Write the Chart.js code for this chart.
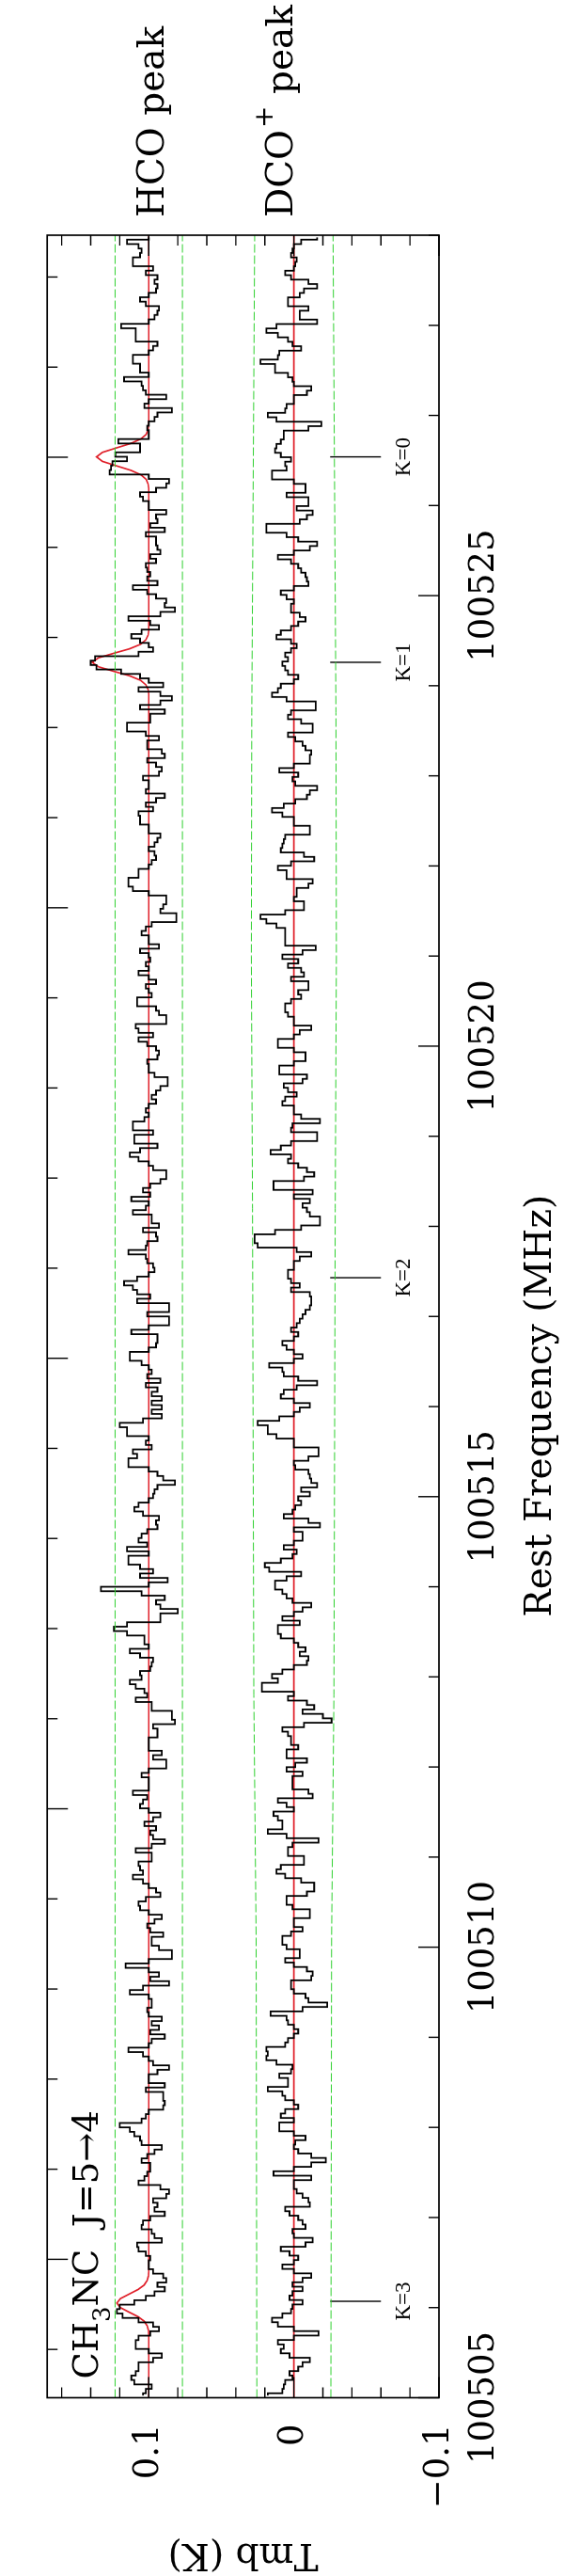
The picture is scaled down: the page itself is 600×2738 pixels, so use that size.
<!DOCTYPE html>
<html>
<head>
<meta charset="utf-8">
<script src="https://cdn.jsdelivr.net/npm/chart.js@4/dist/chart.umd.min.js"></script>
<style>
html, body { margin: 0; padding: 0; width: 600px; height: 2738px; overflow: hidden; background: #fff; }
/* the spectrum is drawn landscape and turned a quarter turn, like the printed figure */
#wrap { position: absolute; left: 0; top: 0; width: 2738px; height: 600px; transform-origin: 0 0; transform: translateY(2738px) rotate(-90deg); }
</style>
</head>
<body>
<div id="wrap"><canvas id="spec" width="2738" height="600"></canvas></div>
<script>
// axis ranges and tick labels
const freqMin = 100505;
const freqMax = 100529;
const freqLabels = [100505, 100510, 100515, 100520, 100525];
const tmbMin = -0.1;
const tmbMax = 0.17;
const tmbLabels = [-0.1, 0, 0.1];
const tmbLabelText = ['\u22120.1', '0', '0.1'];
const topAxisShift = 1.536; // unlabelled top axis, majors fall on K=0

// spectra, Tmb in mK, one value per channel from high to low frequency
const hcoOffset = 0.1;
const hcoMK = [
  0,15,7,5,6,11,11,-3,2,-6,-4,-6,-5,0,6,2,-7,-6,-4,0,19,9,9,9,-6,-3,0,11,11,6,6,0,17,5,4,2,-12,0,3,-16,
  -6,-4,0,1,0,0,21,6,6,23,15,25,26,27,0,-14,-12,-5,6,4,0,0,-12,-5,-6,-1,-11,2,-5,-5,-6,-8,-1,-5,2,1,-1,1,-6,11,
  1,-5,-12,-11,-18,-8,14,-1,-7,5,12,6,0,-3,7,37,40,36,19,6,0,-10,7,-8,-16,-8,6,
  -11,-1,-1,15,15,2,-7,1,1,-9,-11,1,-5,-9,-7,4,0,0,2,-11,-5,2,-3,7,6,6,0,0,-8,-6,-4,0,-4,-5,-2,0,7,7,14,14,
  11,0,-12,-12,-10,-8,-19,-19,-2,2,5,0,0,-7,6,0,-1,2,0,7,0,-5,2,0,-2,8,8,-5,-7,-12,-12,9,7,-3,7,1,-5,-7,-6,1,
  0,0,-4,-13,-13,-8,-5,-2,-5,0,2,0,3,11,11,-3,10,10,-6,6,13,7,0,-3,-12,-12,-8,-1,4,-1,12,
  0,2,11,-2,-2,-7,4,-5,-6,1,2,14,2,1,-3,-4,0,8,17,11,8,-1,8,-14,-14,1,-14,-14,0,12,-6,-6,-5,0,13,13,5,0,-2,1,
  -8,2,-6,-2,-9,-2,-9,-2,-9,4,20,15,15,0,2,-2,11,8,14,14,0,-6,-10,-18,-6,-4,-3,0,7,10,4,-7,-5,-6,1,5,7,1,15,0,
  14,14,6,-3,6,-13,0,33,5,-11,-5,-8,-20,-8,-8,15,24,15,3,3,0,13,6,-3,-2,-1,6,5,13,9,3,1,
  9,-2,-2,-16,-16,-18,-3,-6,-6,0,0,0,-9,-3,-12,-12,0,5,0,0,0,11,1,4,6,0,-8,-3,3,-5,-1,-3,-11,-2,9,-2,-2,7,6,4,
  11,4,0,-5,-8,2,7,6,0,-9,-4,1,-1,-10,-2,-2,-7,-16,-16,0,16,0,-7,-1,-14,4,13,0,-2,-2,1,0,-9,-2,-7,-1,-11,-2,0,14,
  4,0,-3,-14,-6,0,0,-11,2,-10,-10,-11,-10,0,2,5,20,13,10,6,5,-9,-4,1,5,-1,-1,1,3,7,-8,-14,
  -12,-3,-6,-4,-11,-1,4,5,-2,-4,-9,8,7,2,-1,0,
  0,-3,-10,-12,-6,-11,-4,2,10,20,22,18,7,-3,-7,-1,7,9,9,0,-9,-3,7,7,9,12,10,-2,2,4
];
const dcoMK = [
  -16,-5,0,1,2,-2,-1,0,6,2,-10,-16,-7,-4,4,4,-10,-4,-4,-16,12,19,11,4,1,-5,10,11,23,13,13,4,1,0,-12,-9,0,0,5,6,
  18,12,-19,-10,7,7,9,12,13,9,2,6,5,15,15,0,-8,-8,5,-10,-10,-2,-13,-9,-4,19,19,5,-3,-16,-11,0,11,2,-3,-5,-8,-9,-10,0,
  9,5,0,2,2,-4,-8,-3,2,9,12,2,-2,2,6,4,8,6,4,-3,0,9,11,15,5,-15,
  -15,2,4,-5,-13,-13,4,-1,-6,-8,-12,-11,-11,0,10,-3,1,-1,-16,-11,-9,-1,7,15,8,0,0,-11,-11,6,7,8,9,-7,-14,2,11,5,5,-13,
  -10,-2,-2,0,-7,-7,6,23,19,12,6,6,6,6,-15,-6,8,-3,4,-5,-7,2,-10,-10,-3,-5,2,6,6,4,0,0,-12,-4,0,11,11,0,-8,-8,
  0,10,10,-9,-6,7,4,-2,6,8,0,0,-5,-18,1,2,-16,-16,2,9,16,2,4,-3,-9,-14,-7,14,14,-13,0,
  -11,-6,-9,-11,-18,-18,-5,13,27,27,25,-2,-12,-4,0,0,4,4,2,-4,2,-11,-12,-12,-11,-8,-6,-4,-2,2,-3,0,8,5,0,-6,0,17,8,7,
  -3,-16,-2,7,9,0,-11,-4,0,10,25,18,18,12,0,0,-17,-17,-10,0,-1,-10,-11,-12,-16,-5,-11,-3,-5,-1,1,7,-10,-18,0,-6,-6,0,7,-2,
  1,9,20,17,-5,5,13,13,8,5,1,-12,-6,0,8,-4,11,11,9,0,-3,-8,-4,-10,-9,0,8,15,11,22,22,0,
  4,-9,-14,-6,-20,-26,-7,8,4,2,2,-3,5,5,-9,-1,5,-6,1,1,1,-10,-13,11,5,0,14,11,8,8,18,5,-17,1,4,4,-7,-7,9,12,
  6,-5,-14,-14,-9,5,5,1,-11,-11,0,0,-6,2,8,8,5,-4,-4,6,0,-9,-13,-12,2,2,0,-8,-10,-23,-6,16,5,4,0,-3,0,4,6,19,
  18,19,12,1,2,10,4,4,18,8,6,0,-3,6,9,0,10,10,0,-8,-1,0,-3,-12,-22,-12,0,14,-12,0,0,-2,
  -6,-10,-11,6,3,-3,-6,-8,1,0,-13,-8,9,3,-3,0,
  8,0,-12,-6,1,-6,1,3,-6,1,2,8,15,11,0,-17,0,11,7,9,3,-11,-6,-3,3,1,6,7,8,18
];

// Gaussian fit drawn in red over the HCO spectrum (mK above the offset)
const hcoFitFreq = [
  100529.0,
  100526.89, 100526.84, 100526.79, 100526.74, 100526.69, 100526.64, 100526.59, 100526.54,
  100526.49, 100526.44, 100526.39, 100526.34, 100526.29, 100526.24, 100526.19,
  100524.61, 100524.56, 100524.51, 100524.46, 100524.41, 100524.36, 100524.31, 100524.26,
  100524.21, 100524.16, 100524.11, 100524.06, 100524.01, 100523.96, 100523.91,
  100506.40, 100506.35, 100506.30, 100506.25, 100506.20, 100506.15, 100506.10, 100506.05,
  100506.00, 100505.95, 100505.90, 100505.85, 100505.80, 100505.75, 100505.70,
  100505.0
];
const hcoFitMK = [
  0,
  0, 0.5, 1.8, 5.3, 12.2, 22.2, 31.9, 36, 31.9, 22.2, 12.2, 5.3, 1.8, 0.5, 0,
  0, 0.5, 2.0, 5.7, 13.2, 24.1, 34.6, 39, 34.6, 24.1, 13.2, 5.7, 2.0, 0.5, 0,
  0, 0.3, 1.1, 3.2, 7.5, 13.6, 19.5, 22, 19.5, 13.6, 7.5, 3.2, 1.1, 0.3, 0,
  0
];
const dcoFitFreq = [100505, 100529];
const dcoFitMK = [0, 0];

// noise envelopes (green), half-width in mK
const hcoRmsFreq = [100505, 100529];
const hcoRmsMK = [23.2, 23.2];
const dcoRmsFreq = [100505, 100510.1, 100512.8, 100518.2, 100521.0, 100523.7, 100529];
const dcoRmsMK = [25.5, 26, 27.6, 28.5, 29.3, 29, 27];

// CH3NC K components
const kFreq = [100526.54, 100524.26, 100517.43, 100506.07];
const kLabel = ['K=0', 'K=1', 'K=2', 'K=3'];
const markTop = -0.025;
const markBottom = -0.060;
const markText = -0.0796;

function channels(mk, offset) {
  const df = (freqMax - freqMin) / mk.length;
  return mk.map((v, i) => ({ x: freqMax - (i + 0.5) * df, y: offset + v / 1000 }));
}
function curve(freqs, mk, offset, sign) {
  return freqs.map((f, i) => ({ x: f, y: offset + sign * mk[i] / 1000 }));
}

const serif = '"DejaVu Serif", "Liberation Serif", serif';
const green = '#2fd02f';
const red = '#e0202a';

const datasets = [
  { data: curve(hcoRmsFreq, hcoRmsMK, hcoOffset, 1), borderColor: green, borderWidth: 1, borderDash: [9, 3] },
  { data: curve(hcoRmsFreq, hcoRmsMK, hcoOffset, -1), borderColor: green, borderWidth: 1, borderDash: [9, 3] },
  { data: curve(dcoRmsFreq, dcoRmsMK, 0, 1), borderColor: green, borderWidth: 1, borderDash: [9, 3] },
  { data: curve(dcoRmsFreq, dcoRmsMK, 0, -1), borderColor: green, borderWidth: 1, borderDash: [9, 3] },
  { data: channels(hcoMK, hcoOffset), borderColor: '#000', borderWidth: 1.8, stepped: 'middle' },
  { data: channels(dcoMK, 0), borderColor: '#000', borderWidth: 1.8, stepped: 'middle' },
  { data: curve(hcoFitFreq, hcoFitMK, hcoOffset, 1), borderColor: red, borderWidth: 1.7 },
  { data: curve(dcoFitFreq, dcoFitMK, 0, 1), borderColor: red, borderWidth: 1.7 }
];
kFreq.forEach(f => {
  datasets.push({ data: [{ x: f, y: markTop }, { x: f, y: markBottom }], borderColor: '#000', borderWidth: 1.4 });
});

// frame, inward ticks and the annotations
const framePlugin = {
  id: 'frame',
  afterDraw(chart) {
    const { ctx, chartArea: a, scales: { x, y } } = chart;
    ctx.save();
    ctx.strokeStyle = '#000';
    ctx.lineWidth = 1.7;
    ctx.strokeRect(a.left, a.top, a.right - a.left, a.bottom - a.top);

    ctx.lineWidth = 1.4;
    ctx.beginPath();
    for (let f = freqMin; f <= freqMax; f++) {
      const px = x.getPixelForValue(f);
      const len = f % 5 === 0 ? 22 : 11;
      ctx.moveTo(px, a.bottom);
      ctx.lineTo(px, a.bottom - len);
    }
    for (let u = Math.ceil(freqMin - topAxisShift); u <= freqMax - topAxisShift; u++) {
      const px = x.getPixelForValue(u + topAxisShift);
      const len = u % 5 === 0 ? 22 : 11;
      ctx.moveTo(px, a.top);
      ctx.lineTo(px, a.top + len);
    }
    for (let k = -5; k <= 8; k++) {
      const py = y.getPixelForValue(k * 0.02);
      const len = k % 5 === 0 ? 22 : 11;
      ctx.moveTo(a.left, py);
      ctx.lineTo(a.left + len, py);
      ctx.moveTo(a.right, py);
      ctx.lineTo(a.right - len, py);
    }
    ctx.stroke();

    ctx.fillStyle = '#000';
    ctx.textBaseline = 'alphabetic';

    // K labels under the markers
    ctx.font = '23px "Liberation Serif", serif';
    ctx.textAlign = 'center';
    kFreq.forEach((f, i) => ctx.fillText(kLabel[i], x.getPixelForValue(f), y.getPixelForValue(markText)));

    // frequency axis title, set a little towards the low end as in the figure
    ctx.font = '39px ' + serif;
    ctx.textBaseline = 'middle';
    ctx.fillText('Rest Frequency (MHz)', (a.left + a.right) / 2 - 95, chart.height - 24);
    ctx.textBaseline = 'alphabetic';

    // source labels beyond the high-frequency end
    ctx.textAlign = 'left';
    ctx.font = '39px ' + serif;
    const tx = a.right + 19;
    ctx.fillText('HCO peak', tx, y.getPixelForValue(0.0898));
    const by = y.getPixelForValue(0.001);
    let px = tx;
    ctx.fillText('DCO', px, by);
    px += ctx.measureText('DCO').width + 2;
    ctx.font = '28px ' + serif;
    ctx.fillText('+', px, by - 21);
    px += ctx.measureText('+').width;
    ctx.font = '39px ' + serif;
    ctx.fillText(' peak', px, by);

    // transition label
    ctx.font = '37px ' + serif;
    const ly = a.top + 54;
    px = a.left + 20;
    ctx.fillText('CH', px, ly);
    px += ctx.measureText('CH').width;
    ctx.font = '26px ' + serif;
    ctx.fillText('3', px, ly + 13);
    px += ctx.measureText('3').width;
    ctx.font = '37px ' + serif;
    ctx.fillText('NC  J=5\u21924', px, ly);
    ctx.restore();
  }
};

const ctx = document.getElementById('spec').getContext('2d');
window.myChart = new Chart(ctx, {
  type: 'line',
  data: { datasets: datasets },
  options: {
    responsive: false,
    animation: false,
    devicePixelRatio: 1,
    layout: { padding: { top: 7, right: 250, left: 0, bottom: 0 } },
    elements: { point: { radius: 0 }, line: { tension: 0 } },
    plugins: { legend: { display: false }, tooltip: { enabled: false } },
    scales: {
      x: {
        type: 'linear',
        position: 'bottom',
        min: freqMin,
        max: freqMax,
        grid: { display: false, drawTicks: false },
        border: { display: false },
        afterBuildTicks: s => { s.ticks = freqLabels.map(v => ({ value: v })); },
        ticks: { autoSkip: false, maxRotation: 0, padding: 26, color: '#000', font: { family: serif, size: 37 }, callback: v => String(v) },
        title: { display: false },
        afterFit: s => { s.height = 133; }
      },
      y: {
        type: 'linear',
        min: tmbMin,
        max: tmbMax,
        grid: { display: false, drawTicks: false },
        border: { display: false },
        afterBuildTicks: s => { s.ticks = tmbLabels.map(v => ({ value: v })); },
        ticks: {
          autoSkip: false, padding: 28, color: '#000', font: { family: serif, size: 37 },
          callback: v => tmbLabelText[tmbLabels.findIndex(t => Math.abs(t - v) < 1e-9)]
        },
        title: { display: true, text: 'Tmb (K)', color: '#000', font: { family: serif, size: 39 }, padding: 0 },
        afterFit: s => { s.width = 189.5; }
      }
    }
  },
  plugins: [framePlugin]
});
</script>
</body>
</html>
